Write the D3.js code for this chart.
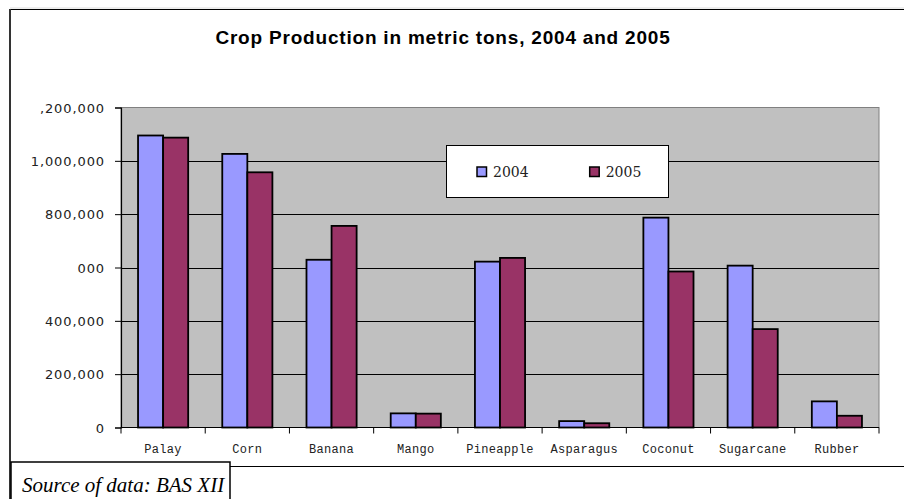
<!DOCTYPE html>
<html>
<head>
<meta charset="utf-8">
<title>Crop Production</title>
<style>
  body { margin: 0; background: #fff; }
  svg { display: block; }
  .ylab { font-family: 'DejaVu Sans', sans-serif; font-size: 13px; letter-spacing: 0.9px; fill: #222; text-anchor: end; }
  .xlab { font-family: 'Liberation Mono', monospace; font-size: 12px; letter-spacing: 0.3px; fill: #222; text-anchor: middle; }
  .title { font-family: 'Liberation Sans', Arial, sans-serif; font-size: 19px; font-weight: bold; text-anchor: middle; letter-spacing: 0.8px; }
  .leg { font-family: 'DejaVu Serif', serif; font-size: 14px; fill: #222; }
  .src { font-family: 'Liberation Serif', 'Times New Roman', serif; font-size: 21px; font-style: italic; }
</style>
</head>
<body>
<div id="chart"></div>
<script src="https://cdn.jsdelivr.net/npm/d3@7"></script>
<script>

var crops = ["Palay", "Corn", "Banana", "Mango", "Pineapple", "Asparagus", "Coconut", "Sugarcane", "Rubber"];
var years = ["2004", "2005"];
var prod2004 = [1095000, 1026000, 629000, 53000, 622000, 24000, 787000, 607000, 98000];
var prod2005 = [1087000, 957000, 756000, 52000, 636000, 16000, 585000, 369000, 44000];
var tickValues = [0, 200000, 400000, 600000, 800000, 1000000, 1200000];
var tickLabels = ["0", "200,000", "400,000", "000", "800,000", "1,000,000", ",200,000"];
var colors = ["#9999ff", "#993366"];

var width = 904,
    height = 499;

var plotLeft = 121, plotRight = 879, plotTop = 107.5, plotBottom = 427.5;

var svg = d3.select("#chart").append("svg")
    .attr("width", width)
    .attr("height", height);

// outer frame
svg.append("line").attr("x1", 10).attr("x2", width).attr("y1", 8).attr("y2", 8)
    .attr("stroke", "#ddd").attr("stroke-width", 1);
svg.append("line").attr("x1", 10).attr("x2", width).attr("y1", 9.5).attr("y2", 9.5)
    .attr("stroke", "#000").attr("stroke-width", 1.2);
svg.append("line").attr("x1", 10).attr("x2", 10).attr("y1", 9).attr("y2", height)
    .attr("stroke", "#333").attr("stroke-width", 2);

svg.append("text").attr("class", "title")
    .attr("x", 443).attr("y", 44)
    .text("Crop Production in metric tons, 2004 and 2005");

var x0 = d3.scaleBand().domain(crops).range([plotLeft, plotRight]).padding(0);
var x1 = d3.scaleBand().domain(years).range([0, x0.bandwidth()]).paddingInner(0).paddingOuter(0.68);
var y = d3.scaleLinear().domain([0, 1200000]).range([plotBottom, plotTop]);

// plot area
svg.append("rect")
    .attr("x", plotLeft).attr("y", plotTop)
    .attr("width", plotRight - plotLeft).attr("height", plotBottom - plotTop)
    .attr("fill", "#c0c0c0").attr("stroke", "#808080").attr("stroke-width", 1);

// gridlines
svg.append("g").selectAll("line")
    .data(tickValues.slice(1, -1))
    .enter().append("line")
    .attr("x1", plotLeft).attr("x2", plotRight)
    .attr("y1", function(d) { return Math.round(y(d)) + 0.5; })
    .attr("y2", function(d) { return Math.round(y(d)) + 0.5; })
    .attr("stroke", "#000").attr("stroke-width", 1);

// bars
var series = [prod2004, prod2005];
var groups = svg.append("g").selectAll("g")
    .data(crops)
    .enter().append("g")
    .attr("transform", function(d) { return "translate(" + x0(d) + ",0)"; });

groups.selectAll("rect")
    .data(function(d, i) { return years.map(function(yr, j) { return { year: yr, value: series[j][i], j: j }; }); })
    .enter().append("rect")
    .attr("x", function(d) { return x1(d.year); })
    .attr("y", function(d) { return y(d.value); })
    .attr("width", x1.bandwidth())
    .attr("height", function(d) { return y(0) - y(d.value); })
    .attr("fill", function(d) { return colors[d.j]; })
    .attr("stroke", "#000").attr("stroke-width", 1.8);

// y axis
var yAxis = d3.axisLeft(y).tickValues(tickValues).tickSize(6).tickPadding(10)
    .tickFormat(function(d, i) { return tickLabels[i]; });
var gy = svg.append("g").attr("transform", "translate(" + plotLeft + ",0)").call(yAxis);
gy.select(".domain").attr("stroke", "#000").attr("stroke-width", 1.2);
gy.selectAll(".tick line").attr("stroke", "#000");
gy.selectAll(".tick text").attr("class", "ylab").attr("fill", null).attr("dy", "0.35em");
gy.attr("font-family", null).attr("font-size", null);

// x axis with ticks on category boundaries
svg.append("line").attr("x1", plotLeft).attr("x2", plotRight)
    .attr("y1", plotBottom).attr("y2", plotBottom).attr("stroke", "#000").attr("stroke-width", 1.2);
svg.append("g").selectAll("line")
    .data(crops.concat(["end"]))
    .enter().append("line")
    .attr("x1", function(d, i) { return plotLeft + i * x0.step(); })
    .attr("x2", function(d, i) { return plotLeft + i * x0.step(); })
    .attr("y1", plotBottom).attr("y2", plotBottom + 6)
    .attr("stroke", "#000");
svg.append("g").selectAll("text")
    .data(crops)
    .enter().append("text")
    .attr("class", "xlab")
    .attr("x", function(d) { return x0(d) + x0.bandwidth() / 2; })
    .attr("y", 453)
    .text(function(d) { return d; });

// legend
var leg = svg.append("g");
leg.append("rect").attr("x", 446.5).attr("y", 145.5).attr("width", 222).attr("height", 52)
    .attr("fill", "#fff").attr("stroke", "#000").attr("stroke-width", 1);
var li = leg.selectAll("g").data(years).enter().append("g")
    .attr("transform", function(d, i) { return "translate(" + (477 + i * 112.7) + ",167)"; });
li.append("rect").attr("width", 9.5).attr("height", 9.5)
    .attr("fill", function(d, i) { return colors[i]; })
    .attr("stroke", "#000").attr("stroke-width", 1.5);
li.append("text").attr("class", "leg").attr("x", 16).attr("y", 10).text(function(d) { return d; });

// source box
svg.append("line").attr("x1", 230).attr("x2", width).attr("y1", 466.5).attr("y2", 466.5)
    .attr("stroke", "#000").attr("stroke-width", 1);
svg.append("rect").attr("x", 11).attr("y", 462).attr("width", 219).attr("height", 45)
    .attr("fill", "#fff").attr("stroke", "#000").attr("stroke-width", 1.5);
svg.append("text").attr("class", "src").attr("x", 22).attr("y", 492)
    .text("Source of data: BAS XII");

</script>
</body>
</html>
